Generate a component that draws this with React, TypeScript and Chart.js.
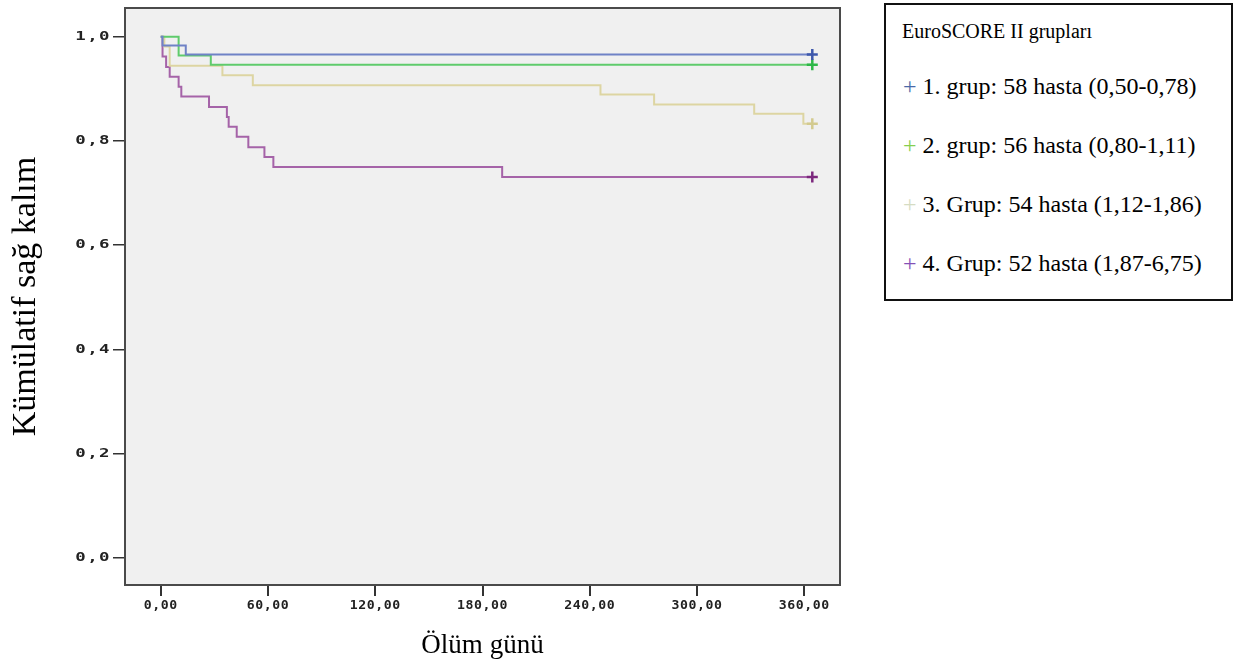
import React, { useEffect, useRef } from "react";
import { Chart, registerables } from "chart.js";

Chart.register(...registerables);

// ---- Data ----
const groupLabels = [
  "1. grup: 58 hasta (0,50-0,78)",
  "2. grup: 56 hasta (0,80-1,11)",
  "3. Grup: 54 hasta (1,12-1,86)",
  "4. Grup: 52 hasta (1,87-6,75)",
];
const legendTitle = "EuroSCORE II grupları";

const g1Time = [0, 1, 14, 364.5];
const g1Surv = [1, 0.983, 0.966, 0.966];

const g2Time = [0, 10, 28, 364.5];
const g2Surv = [1, 0.964, 0.946, 0.946];

const g3Time = [0, 2, 5, 34.5, 51.5, 246, 276, 332, 359.5, 364.5];
const g3Surv = [1, 0.981, 0.944, 0.926, 0.907, 0.889, 0.87, 0.852, 0.833, 0.833];

const g4Time = [0, 1, 3, 5, 10, 11.5, 27, 37, 38, 42.5, 49, 58, 63, 191, 364.5];
const g4Surv = [1, 0.962, 0.942, 0.923, 0.904, 0.885, 0.865, 0.846, 0.827, 0.808, 0.788, 0.769, 0.75, 0.731, 0.731];

const xTickValues = [0, 60, 120, 180, 240, 300, 360];
const xTickLabels = ["0,00", "60,00", "120,00", "180,00", "240,00", "300,00", "360,00"];
const yTickValues = [0, 0.2, 0.4, 0.6, 0.8, 1.0];
const yTickLabels = ["0,0", "0,2", "0,4", "0,6", "0,8", "1,0"];

const xTitle = "Ölüm günü";
const yTitle = "Kümülatif sağ kalım";

// ---- Styles ----
const lineColors = ["#6f82c6", "#5fcb6c", "#ddd5a2", "#a563a8"];
const markColors = ["#3e58ac", "#2eb848", "#d3ca8f", "#7c287d"];
const legendMarkColors = ["#4a69a8", "#86cf4f", "#d5dcc3", "#8450b6"];

const groups = [
  { t: g1Time, s: g1Surv },
  { t: g2Time, s: g2Surv },
  { t: g3Time, s: g3Surv },
  { t: g4Time, s: g4Surv },
];

const framePlugin = {
  id: "framePlugin",
  beforeDatasetsDraw(chart: any) {
    const { ctx, chartArea: a } = chart;
    ctx.save();
    ctx.fillStyle = "#f0f0f0";
    ctx.fillRect(a.left, a.top, a.right - a.left, a.bottom - a.top);
    ctx.restore();
  },
  afterDraw(chart: any) {
    const { ctx, chartArea: a, scales } = chart;
    ctx.save();
    ctx.strokeStyle = "#4a4a4a";
    ctx.lineWidth = 2;
    ctx.strokeRect(a.left, a.top, a.right - a.left, a.bottom - a.top);

    ctx.fillStyle = "#222";
    ctx.font = 'bold 12px "DejaVu Sans Mono"';
    (ctx as any).letterSpacing = "1px";
    ctx.textBaseline = "middle";
    ctx.textAlign = "right";
    yTickValues.forEach((v, i) => {
      const py = scales.y.getPixelForValue(v);
      ctx.save();
      ctx.translate(a.left - 14, py);
      ctx.scale(1.45, 1);
      ctx.fillText(yTickLabels[i], 0, 0);
      ctx.restore();
    });
    (ctx as any).letterSpacing = "0.5px";
    ctx.textAlign = "center";
    xTickValues.forEach((v, i) => {
      const px = scales.x.getPixelForValue(v);
      ctx.save();
      ctx.translate(px, a.bottom + 21);
      ctx.scale(1.1, 1);
      ctx.fillText(xTickLabels[i], 0, 0);
      ctx.restore();
    });
    ctx.restore();
  },
};

function KMChart() {
  const ref = useRef<HTMLCanvasElement | null>(null);
  useEffect(() => {
    if (!ref.current) return;
    const datasets = groups.map((g, gi) => {
      const n = g.t.length;
      return {
        label: groupLabels[gi],
        data: g.t.map((t, i) => ({ x: t, y: g.s[i] })),
        stepped: true as const,
        borderColor: lineColors[gi],
        borderWidth: 2,
        fill: false,
        pointStyle: "cross" as const,
        pointRadius: (c: any) => (c.dataIndex === n - 1 ? 5.5 : 0),
        pointHoverRadius: 0,
        pointBorderColor: markColors[gi],
        pointBackgroundColor: markColors[gi],
        pointBorderWidth: 2.5,
      };
    });
    const chart = new Chart(ref.current, {
      type: "line",
      data: { datasets },
      plugins: [framePlugin],
      options: {
        animation: false,
        responsive: false,
        layout: { padding: { top: 6, right: 40, left: 0, bottom: 0 } },
        plugins: { legend: { display: false }, tooltip: { enabled: false } },
        scales: {
          x: {
            type: "linear",
            min: -20,
            max: 380,
            afterFit: (s: any) => {
              s.height = 79;
            },
            afterBuildTicks: (s: any) => {
              s.ticks = xTickValues.map((v) => ({ value: v }));
            },
            grid: {
              drawOnChartArea: false,
              drawTicks: true,
              tickLength: 11,
              color: "#333",
              lineWidth: 2,
            },
            border: { display: false },
            ticks: { display: false },
            title: {
              display: true,
              text: xTitle,
              color: "#000",
              font: { family: '"Liberation Serif", "Times New Roman", serif', size: 27 },
              padding: { top: 0, bottom: 2 },
            },
          },
          y: {
            type: "linear",
            min: -0.052,
            max: 1.055,
            afterFit: (s: any) => {
              s.width = 125;
            },
            afterBuildTicks: (s: any) => {
              s.ticks = yTickValues.map((v) => ({ value: v }));
            },
            grid: {
              drawOnChartArea: false,
              drawTicks: true,
              tickLength: 12,
              color: "#333",
              lineWidth: 1.5,
            },
            border: { display: false },
            ticks: { display: false },
            title: {
              display: true,
              text: yTitle,
              color: "#000",
              font: { family: '"Liberation Serif", "Times New Roman", serif', size: 34 },
              padding: { top: 6, bottom: 0 },
            },
          },
        },
      },
    });
    return () => chart.destroy();
  }, []);
  return <canvas ref={ref} width={880} height={664} style={{ display: "block" }} />;
}

export default function App() {
  const entryCenters = [86, 145, 204, 263];
  return (
    <div
      style={{
        position: "fixed",
        left: 0,
        top: 0,
        width: 1234,
        height: 664,
        background: "#fff",
        overflow: "hidden",
      }}
    >
      <div style={{ position: "absolute", left: 0, top: 0, width: 880, height: 664 }}>
        <KMChart />
      </div>
      <div
        style={{
          position: "absolute",
          left: 884,
          top: 3,
          width: 345,
          height: 294,
          border: "2px solid #111",
          fontFamily: '"Liberation Serif", "Times New Roman", serif',
          color: "#000",
          boxSizing: "content-box",
        }}
      >
        <div
          style={{
            position: "absolute",
            left: 16,
            top: 31 - 5 - 15,
            fontSize: 20,
            lineHeight: "30px",
            whiteSpace: "nowrap",
          }}
        >
          {legendTitle}
        </div>
        {groupLabels.map((lab, i) => (
          <div
            key={lab}
            style={{
              position: "absolute",
              left: 17,
              top: entryCenters[i] - 5 - 15,
              fontSize: 24,
              lineHeight: "30px",
              whiteSpace: "nowrap",
            }}
          >
            <span style={{ color: legendMarkColors[i] }}>+</span> {lab}
          </div>
        ))}
      </div>
    </div>
  );
}
